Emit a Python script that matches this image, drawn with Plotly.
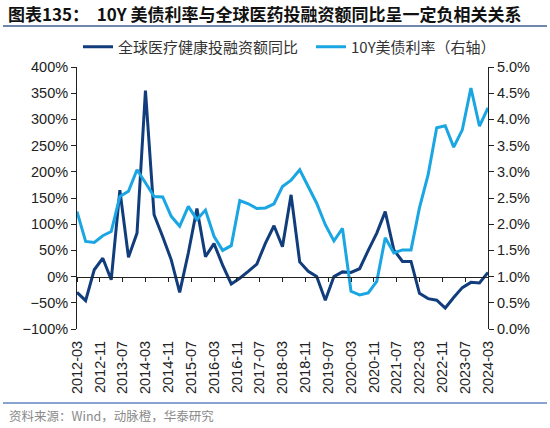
import pandas as pd
import plotly.graph_objects as go

# Quarterly dates 2012-03 .. 2024-03
dates = pd.date_range("2012-03-01", "2024-03-01", freq="3MS")

# 全球医疗健康投融资额同比 (%), left axis
funding_yoy = [-30, -46, 13, 35, -6, 165, 37, 83, 355, 118,
               76, 32, -30, 45, 130, 38, 63, 22, -14, -3,
               10, 24, 64, 97, 57, 156, 28, 10, 0, -45,
               0, 9, 8, 15, 50, 83, 124, 51, 29, 29,
               -32, -42, -45, -60, -40, -21, -11, -12, 8]

# 10Y 美债利率 (%), right axis
ust10y = [2.24, 1.67, 1.65, 1.78, 1.86, 2.53, 2.63, 3.04, 2.79, 2.53,
          2.52, 2.15, 1.96, 2.34, 2.09, 2.27, 1.77, 1.50, 1.59, 2.45,
          2.39, 2.30, 2.31, 2.39, 2.72, 2.84, 3.04, 2.72, 2.40, 1.99,
          1.68, 1.92, 0.72, 0.65, 0.69, 0.91, 1.74, 1.45, 1.51, 1.51,
          2.31, 2.94, 3.84, 3.88, 3.47, 3.80, 4.60, 3.87, 4.22]

tick_labels = ["2012-03", "2012-11", "2013-07", "2014-03", "2014-11", "2015-07",
               "2016-03", "2016-11", "2017-07", "2018-03", "2018-11", "2019-07",
               "2020-03", "2020-11", "2021-07", "2022-03", "2022-11", "2023-07",
               "2024-03"]
tick_vals = [pd.Timestamp(t + "-01") for t in tick_labels]

DARK = "#123d7c"
LIGHT = "#1aa6e2"
FONT = "Liberation Sans, Arial, Noto Sans CJK SC"
TICKFONT = dict(size=14.5, family=FONT, color="#222222")
LEGFONT = dict(size=15, family="Noto Sans CJK SC, Liberation Sans", color="#333333")

W, H = 550, 428
XDOM = [77 / W, 488 / W]
YDOM = [(H - 329) / H, (H - 67) / H]
ZERO_POS = YDOM[0] + 0.2 * (YDOM[1] - YDOM[0])  # 0% on the left axis

fig = go.Figure()
# decorative header/footer rules on a hidden full-figure axis pair
for ypx, col in [(26, "#3f5f90"), (403, "#5f85bf")]:
    fig.add_trace(go.Scatter(x=[3 / W, 547 / W], y=[1 - ypx / H, 1 - ypx / H],
                             mode="lines", showlegend=False, hoverinfo="skip",
                             line=dict(color=col, width=1.5),
                             xaxis="x3", yaxis="y3"))
# invisible helper trace so the zero-level tick axis (x2) is drawn
fig.add_trace(go.Scatter(x=dates, y=funding_yoy, mode="lines", showlegend=False,
                         hoverinfo="skip", line=dict(color="rgba(0,0,0,0)", width=0),
                         xaxis="x2", yaxis="y"))
fig.add_trace(go.Scatter(x=dates, y=funding_yoy, name="全球医疗健康投融资额同比",
                         mode="lines", line=dict(color=DARK, width=3),
                         xaxis="x", yaxis="y", legend="legend"))
fig.add_trace(go.Scatter(x=dates, y=ust10y, name="10Y美债利率（右轴）",
                         mode="lines", line=dict(color=LIGHT, width=3),
                         xaxis="x", yaxis="y2", legend="legend2"))

xrange = [pd.Timestamp("2012-03-01"), pd.Timestamp("2024-03-01")]

fig.update_layout(
    width=W, height=H,
    margin=dict(l=0, r=0, t=0, b=0, pad=0, autoexpand=False),
    paper_bgcolor="white", plot_bgcolor="rgba(0,0,0,0)",
    font=dict(family=FONT, size=13, color="#222222"),
    showlegend=True,
    legend=dict(orientation="h", x=78 / W, xanchor="left", y=1 - 47 / H, yanchor="middle",
                font=LEGFONT, bgcolor="rgba(0,0,0,0)"),
    legend2=dict(orientation="h", x=311 / W, xanchor="left", y=1 - 47 / H, yanchor="middle",
                 font=LEGFONT, bgcolor="rgba(0,0,0,0)"),
    xaxis=dict(type="date", range=xrange, domain=XDOM, anchor="y",
               tickvals=tick_vals, ticktext=tick_labels,
               tickangle=-90, showline=False, ticks="", showgrid=False, zeroline=False,
               tickfont=TICKFONT, ticklabelstandoff=8),
    xaxis2=dict(type="date", range=xrange, domain=XDOM, tickvals=tick_vals, overlaying="x",
                anchor="free", position=ZERO_POS, side="bottom",
                showline=True, linecolor="#222222", linewidth=1,
                ticks="outside", ticklen=4, tickcolor="#222222",
                showticklabels=False, showgrid=False, zeroline=False),
    xaxis3=dict(range=[0, 1], domain=[0, 1], anchor="y3", visible=False, fixedrange=True),
    yaxis3=dict(range=[0, 1], domain=[0, 1], anchor="x3", visible=False, fixedrange=True),
    yaxis=dict(range=[-100, 400], domain=YDOM, anchor="x", dtick=50, ticksuffix="%",
               showgrid=False, zeroline=False, showline=True, linecolor="#222222",
               linewidth=1, ticks="outside", ticklen=5, tickcolor="#222222",
               tickfont=TICKFONT),
    yaxis2=dict(range=[0, 5], domain=YDOM, dtick=0.5, tickformat=".1f", ticksuffix="%",
                overlaying="y", side="right", anchor="x", showgrid=False,
                zeroline=False, showline=True, linecolor="#222222", linewidth=1,
                ticks="outside", ticklen=5, tickcolor="#222222",
                tickfont=TICKFONT),
)

# Title
fig.add_annotation(text="<b>图表135：  10Y 美债利率与全球医药投融资额同比呈一定负相关关系</b>",
                   xref="paper", yref="paper", x=5.5 / W, y=1 - 13.6 / H,
                   xanchor="left", yanchor="middle", showarrow=False,
                   font=dict(size=17, family="Noto Sans CJK SC", color="#111111"))
# Source
fig.add_annotation(text="资料来源：Wind，动脉橙，华泰研究",
                   xref="paper", yref="paper", x=6.7 / W, y=1 - 415.7 / H,
                   xanchor="left", yanchor="middle", showarrow=False,
                   font=dict(size=12.5, family="Noto Sans CJK SC, Liberation Sans", color="#8a8a8a"))

fig.write_html("out.html", config={"displayModeBar": False},
               post_script="document.body.style.margin='0';")
